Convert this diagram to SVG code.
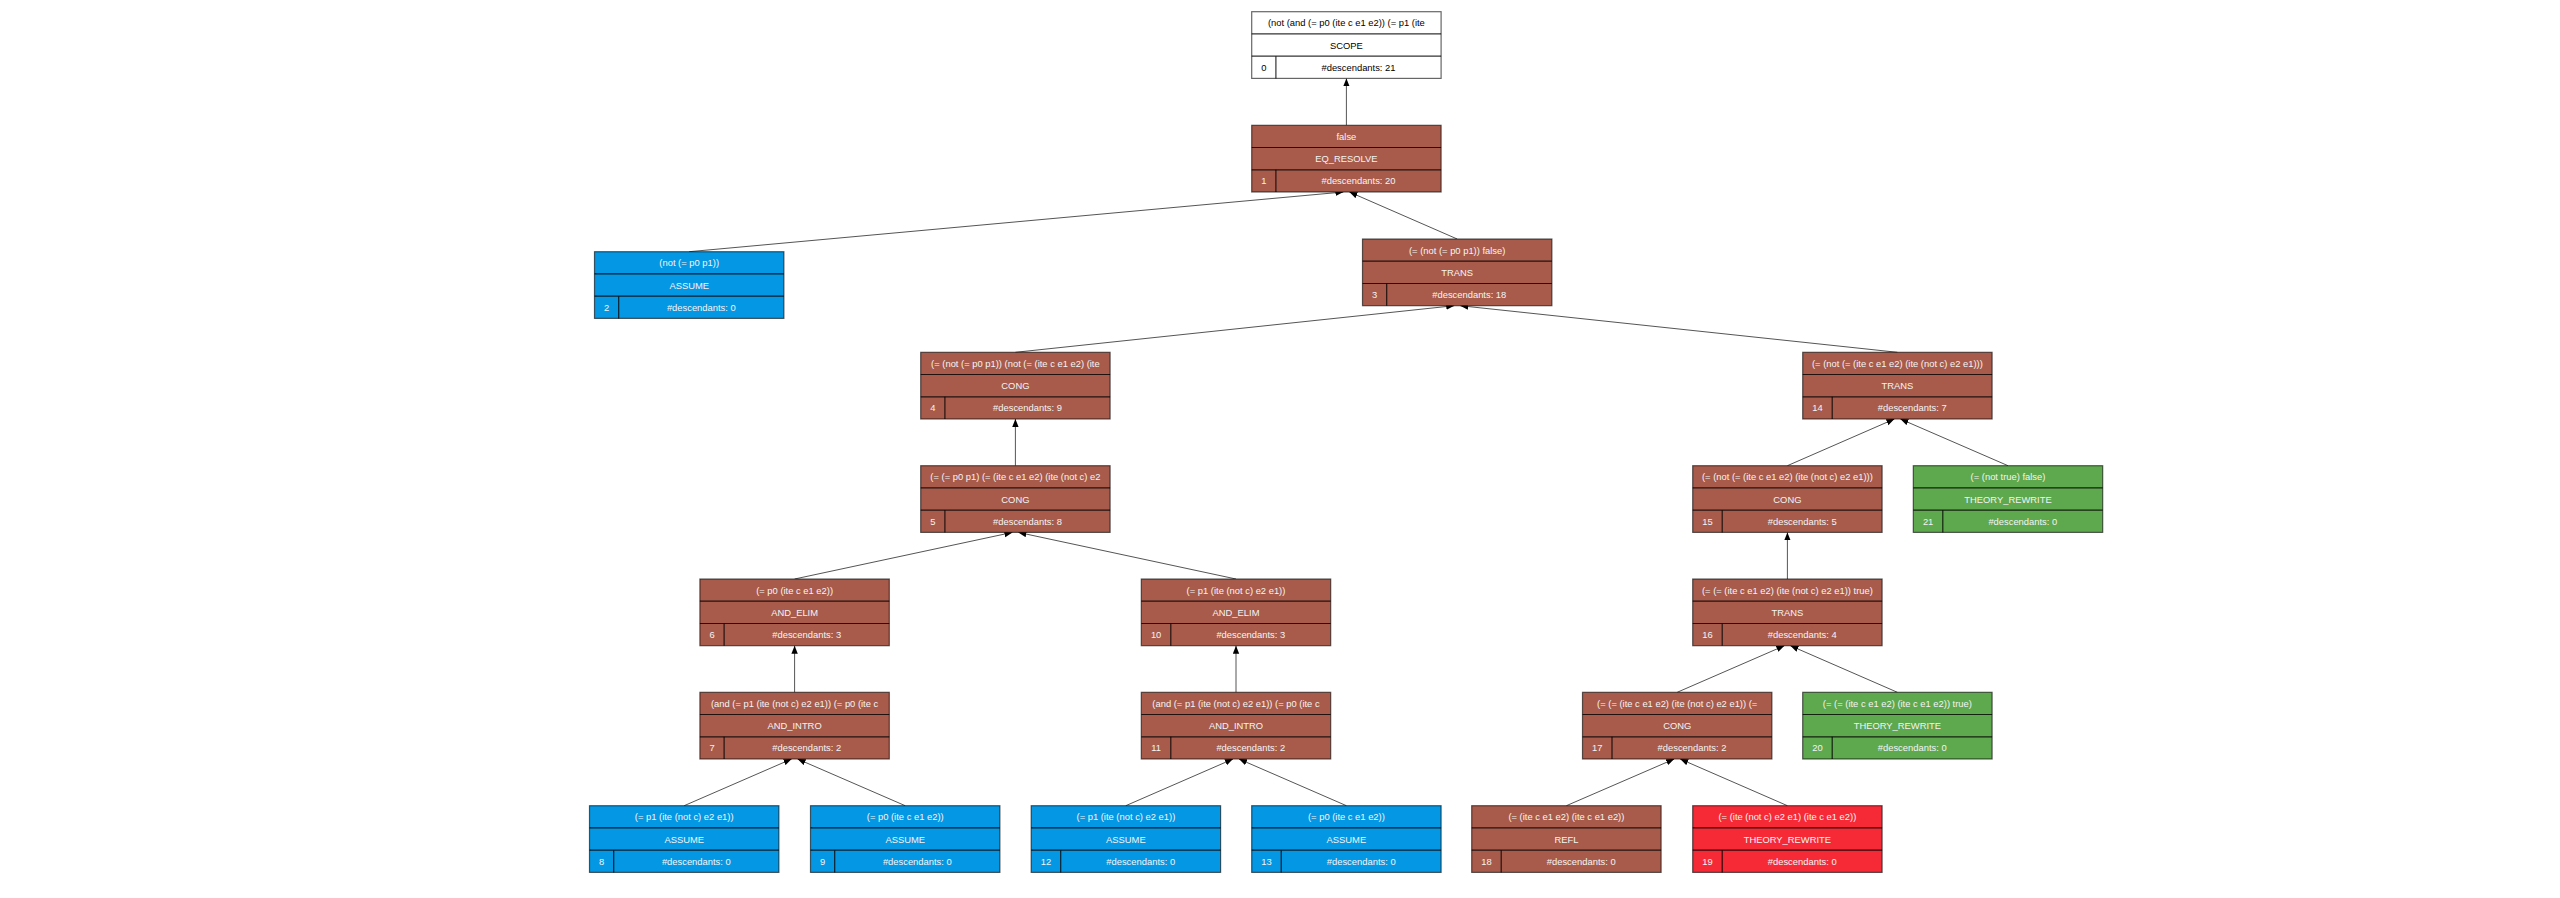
<svg xmlns="http://www.w3.org/2000/svg" width="2560" height="898" viewBox="0 0 2560 898">
<style>
.box{stroke:#000;stroke-opacity:0.6;stroke-width:1.2}
.ln{stroke:#000;stroke-opacity:0.8;stroke-width:1.2}
.brown{fill:#a85b4b}
.blue{fill:#0497e3}
.green{fill:#5ea84e}
.red{fill:#f62a36}
.white{fill:#ffffff}
text{font-family:"Liberation Sans",Arial,sans-serif;font-size:9.4px;text-anchor:middle;dominant-baseline:central;fill:#f4f4f4}
.dark text{fill:#000}
.edge{stroke:#555;stroke-width:1;fill:none;marker-end:url(#ah)}
</style>
<defs>
<marker id="ah" markerUnits="userSpaceOnUse" markerWidth="9" markerHeight="7" refX="8" refY="3.2" orient="auto">
<path d="M0,0 L8,3.2 L0,6.4 z" fill="#000"/>
</marker>
</defs>
<rect width="2560" height="898" fill="#fff"/>
<g id="connectors">
<line class="edge" x1="1346.4" y1="125.3" x2="1346.4" y2="78.4"/>
<line class="edge" x1="689.2" y1="251.7" x2="1343.4" y2="192"/>
<line class="edge" x1="1457.2" y1="239" x2="1349.4" y2="192"/>
<line class="edge" x1="1015.4" y1="352.3" x2="1454.2" y2="305.7"/>
<line class="edge" x1="1897.4" y1="352.3" x2="1460.2" y2="305.7"/>
<line class="edge" x1="1015.4" y1="465.7" x2="1015.4" y2="419"/>
<line class="edge" x1="794.6" y1="579" x2="1012.4" y2="532.4"/>
<line class="edge" x1="1236" y1="579" x2="1018.4" y2="532.4"/>
<line class="edge" x1="794.6" y1="692.3" x2="794.6" y2="645.7"/>
<line class="edge" x1="684.2" y1="805.7" x2="791.6" y2="759"/>
<line class="edge" x1="905.2" y1="805.7" x2="797.6" y2="759"/>
<line class="edge" x1="1236" y1="692.3" x2="1236" y2="645.7"/>
<line class="edge" x1="1125.8" y1="805.7" x2="1233" y2="759"/>
<line class="edge" x1="1346.4" y1="805.7" x2="1239" y2="759"/>
<line class="edge" x1="1787.4" y1="465.7" x2="1894.4" y2="419"/>
<line class="edge" x1="2008" y1="465.7" x2="1900.4" y2="419"/>
<line class="edge" x1="1787.4" y1="579" x2="1787.4" y2="532.4"/>
<line class="edge" x1="1677.2" y1="692.3" x2="1784.4" y2="645.7"/>
<line class="edge" x1="1897.4" y1="692.3" x2="1790.4" y2="645.7"/>
<line class="edge" x1="1566.4" y1="805.7" x2="1674.2" y2="759"/>
<line class="edge" x1="1787.4" y1="805.7" x2="1680.2" y2="759"/>
</g>
<g id="node0" class="dark" transform="translate(1251.7,11.7)">
<rect class="box white" width="189.4" height="66.7"/>
<line class="ln" x1="0" y1="22.2" x2="189.4" y2="22.2"/><line class="ln" x1="0" y1="44.5" x2="189.4" y2="44.5"/><line class="ln" x1="24.2" y1="44.5" x2="24.2" y2="66.7"/>
<text x="94.7" y="11.1">(not (and (= p0 (ite c e1 e2)) (= p1 (ite</text><text x="94.7" y="33.4">SCOPE</text><text x="12.1" y="55.6">0</text><text x="106.8" y="55.6">#descendants: 21</text>
</g>
<g id="node1" transform="translate(1251.7,125.3)">
<rect class="box brown" width="189.4" height="66.7"/>
<line class="ln" x1="0" y1="22.2" x2="189.4" y2="22.2"/><line class="ln" x1="0" y1="44.5" x2="189.4" y2="44.5"/><line class="ln" x1="24.2" y1="44.5" x2="24.2" y2="66.7"/>
<text x="94.7" y="11.1">false</text><text x="94.7" y="33.4">EQ_RESOLVE</text><text x="12.1" y="55.6">1</text><text x="106.8" y="55.6">#descendants: 20</text>
</g>
<g id="node2" transform="translate(594.5,251.7)">
<rect class="box blue" width="189.4" height="66.7"/>
<line class="ln" x1="0" y1="22.2" x2="189.4" y2="22.2"/><line class="ln" x1="0" y1="44.5" x2="189.4" y2="44.5"/><line class="ln" x1="24.2" y1="44.5" x2="24.2" y2="66.7"/>
<text x="94.7" y="11.1">(not (= p0 p1))</text><text x="94.7" y="33.4">ASSUME</text><text x="12.1" y="55.6">2</text><text x="106.8" y="55.6">#descendants: 0</text>
</g>
<g id="node3" transform="translate(1362.5,239)">
<rect class="box brown" width="189.4" height="66.7"/>
<line class="ln" x1="0" y1="22.2" x2="189.4" y2="22.2"/><line class="ln" x1="0" y1="44.5" x2="189.4" y2="44.5"/><line class="ln" x1="24.2" y1="44.5" x2="24.2" y2="66.7"/>
<text x="94.7" y="11.1">(= (not (= p0 p1)) false)</text><text x="94.7" y="33.4">TRANS</text><text x="12.1" y="55.6">3</text><text x="106.8" y="55.6">#descendants: 18</text>
</g>
<g id="node4" transform="translate(920.7,352.3)">
<rect class="box brown" width="189.4" height="66.7"/>
<line class="ln" x1="0" y1="22.2" x2="189.4" y2="22.2"/><line class="ln" x1="0" y1="44.5" x2="189.4" y2="44.5"/><line class="ln" x1="24.2" y1="44.5" x2="24.2" y2="66.7"/>
<text x="94.7" y="11.1">(= (not (= p0 p1)) (not (= (ite c e1 e2) (ite</text><text x="94.7" y="33.4">CONG</text><text x="12.1" y="55.6">4</text><text x="106.8" y="55.6">#descendants: 9</text>
</g>
<g id="node5" transform="translate(920.7,465.7)">
<rect class="box brown" width="189.4" height="66.7"/>
<line class="ln" x1="0" y1="22.2" x2="189.4" y2="22.2"/><line class="ln" x1="0" y1="44.5" x2="189.4" y2="44.5"/><line class="ln" x1="24.2" y1="44.5" x2="24.2" y2="66.7"/>
<text x="94.7" y="11.1">(= (= p0 p1) (= (ite c e1 e2) (ite (not c) e2</text><text x="94.7" y="33.4">CONG</text><text x="12.1" y="55.6">5</text><text x="106.8" y="55.6">#descendants: 8</text>
</g>
<g id="node6" transform="translate(699.9,579)">
<rect class="box brown" width="189.4" height="66.7"/>
<line class="ln" x1="0" y1="22.2" x2="189.4" y2="22.2"/><line class="ln" x1="0" y1="44.5" x2="189.4" y2="44.5"/><line class="ln" x1="24.2" y1="44.5" x2="24.2" y2="66.7"/>
<text x="94.7" y="11.1">(= p0 (ite c e1 e2))</text><text x="94.7" y="33.4">AND_ELIM</text><text x="12.1" y="55.6">6</text><text x="106.8" y="55.6">#descendants: 3</text>
</g>
<g id="node7" transform="translate(699.9,692.3)">
<rect class="box brown" width="189.4" height="66.7"/>
<line class="ln" x1="0" y1="22.2" x2="189.4" y2="22.2"/><line class="ln" x1="0" y1="44.5" x2="189.4" y2="44.5"/><line class="ln" x1="24.2" y1="44.5" x2="24.2" y2="66.7"/>
<text x="94.7" y="11.1">(and (= p1 (ite (not c) e2 e1)) (= p0 (ite c</text><text x="94.7" y="33.4">AND_INTRO</text><text x="12.1" y="55.6">7</text><text x="106.8" y="55.6">#descendants: 2</text>
</g>
<g id="node8" transform="translate(589.5,805.7)">
<rect class="box blue" width="189.4" height="66.7"/>
<line class="ln" x1="0" y1="22.2" x2="189.4" y2="22.2"/><line class="ln" x1="0" y1="44.5" x2="189.4" y2="44.5"/><line class="ln" x1="24.2" y1="44.5" x2="24.2" y2="66.7"/>
<text x="94.7" y="11.1">(= p1 (ite (not c) e2 e1))</text><text x="94.7" y="33.4">ASSUME</text><text x="12.1" y="55.6">8</text><text x="106.8" y="55.6">#descendants: 0</text>
</g>
<g id="node9" transform="translate(810.5,805.7)">
<rect class="box blue" width="189.4" height="66.7"/>
<line class="ln" x1="0" y1="22.2" x2="189.4" y2="22.2"/><line class="ln" x1="0" y1="44.5" x2="189.4" y2="44.5"/><line class="ln" x1="24.2" y1="44.5" x2="24.2" y2="66.7"/>
<text x="94.7" y="11.1">(= p0 (ite c e1 e2))</text><text x="94.7" y="33.4">ASSUME</text><text x="12.1" y="55.6">9</text><text x="106.8" y="55.6">#descendants: 0</text>
</g>
<g id="node10" transform="translate(1141.3,579)">
<rect class="box brown" width="189.4" height="66.7"/>
<line class="ln" x1="0" y1="22.2" x2="189.4" y2="22.2"/><line class="ln" x1="0" y1="44.5" x2="189.4" y2="44.5"/><line class="ln" x1="29.5" y1="44.5" x2="29.5" y2="66.7"/>
<text x="94.7" y="11.1">(= p1 (ite (not c) e2 e1))</text><text x="94.7" y="33.4">AND_ELIM</text><text x="14.8" y="55.6">10</text><text x="109.5" y="55.6">#descendants: 3</text>
</g>
<g id="node11" transform="translate(1141.3,692.3)">
<rect class="box brown" width="189.4" height="66.7"/>
<line class="ln" x1="0" y1="22.2" x2="189.4" y2="22.2"/><line class="ln" x1="0" y1="44.5" x2="189.4" y2="44.5"/><line class="ln" x1="29.5" y1="44.5" x2="29.5" y2="66.7"/>
<text x="94.7" y="11.1">(and (= p1 (ite (not c) e2 e1)) (= p0 (ite c</text><text x="94.7" y="33.4">AND_INTRO</text><text x="14.8" y="55.6">11</text><text x="109.5" y="55.6">#descendants: 2</text>
</g>
<g id="node12" transform="translate(1031.2,805.7)">
<rect class="box blue" width="189.4" height="66.7"/>
<line class="ln" x1="0" y1="22.2" x2="189.4" y2="22.2"/><line class="ln" x1="0" y1="44.5" x2="189.4" y2="44.5"/><line class="ln" x1="29.5" y1="44.5" x2="29.5" y2="66.7"/>
<text x="94.7" y="11.1">(= p1 (ite (not c) e2 e1))</text><text x="94.7" y="33.4">ASSUME</text><text x="14.8" y="55.6">12</text><text x="109.5" y="55.6">#descendants: 0</text>
</g>
<g id="node13" transform="translate(1251.7,805.7)">
<rect class="box blue" width="189.4" height="66.7"/>
<line class="ln" x1="0" y1="22.2" x2="189.4" y2="22.2"/><line class="ln" x1="0" y1="44.5" x2="189.4" y2="44.5"/><line class="ln" x1="29.5" y1="44.5" x2="29.5" y2="66.7"/>
<text x="94.7" y="11.1">(= p0 (ite c e1 e2))</text><text x="94.7" y="33.4">ASSUME</text><text x="14.8" y="55.6">13</text><text x="109.5" y="55.6">#descendants: 0</text>
</g>
<g id="node14" transform="translate(1802.7,352.3)">
<rect class="box brown" width="189.4" height="66.7"/>
<line class="ln" x1="0" y1="22.2" x2="189.4" y2="22.2"/><line class="ln" x1="0" y1="44.5" x2="189.4" y2="44.5"/><line class="ln" x1="29.5" y1="44.5" x2="29.5" y2="66.7"/>
<text x="94.7" y="11.1">(= (not (= (ite c e1 e2) (ite (not c) e2 e1)))</text><text x="94.7" y="33.4">TRANS</text><text x="14.8" y="55.6">14</text><text x="109.5" y="55.6">#descendants: 7</text>
</g>
<g id="node15" transform="translate(1692.7,465.7)">
<rect class="box brown" width="189.4" height="66.7"/>
<line class="ln" x1="0" y1="22.2" x2="189.4" y2="22.2"/><line class="ln" x1="0" y1="44.5" x2="189.4" y2="44.5"/><line class="ln" x1="29.5" y1="44.5" x2="29.5" y2="66.7"/>
<text x="94.7" y="11.1">(= (not (= (ite c e1 e2) (ite (not c) e2 e1)))</text><text x="94.7" y="33.4">CONG</text><text x="14.8" y="55.6">15</text><text x="109.5" y="55.6">#descendants: 5</text>
</g>
<g id="node16" transform="translate(1692.7,579)">
<rect class="box brown" width="189.4" height="66.7"/>
<line class="ln" x1="0" y1="22.2" x2="189.4" y2="22.2"/><line class="ln" x1="0" y1="44.5" x2="189.4" y2="44.5"/><line class="ln" x1="29.5" y1="44.5" x2="29.5" y2="66.7"/>
<text x="94.7" y="11.1">(= (= (ite c e1 e2) (ite (not c) e2 e1)) true)</text><text x="94.7" y="33.4">TRANS</text><text x="14.8" y="55.6">16</text><text x="109.5" y="55.6">#descendants: 4</text>
</g>
<g id="node17" transform="translate(1582.5,692.3)">
<rect class="box brown" width="189.4" height="66.7"/>
<line class="ln" x1="0" y1="22.2" x2="189.4" y2="22.2"/><line class="ln" x1="0" y1="44.5" x2="189.4" y2="44.5"/><line class="ln" x1="29.5" y1="44.5" x2="29.5" y2="66.7"/>
<text x="94.7" y="11.1">(= (= (ite c e1 e2) (ite (not c) e2 e1)) (=</text><text x="94.7" y="33.4">CONG</text><text x="14.8" y="55.6">17</text><text x="109.5" y="55.6">#descendants: 2</text>
</g>
<g id="node18" transform="translate(1471.7,805.7)">
<rect class="box brown" width="189.4" height="66.7"/>
<line class="ln" x1="0" y1="22.2" x2="189.4" y2="22.2"/><line class="ln" x1="0" y1="44.5" x2="189.4" y2="44.5"/><line class="ln" x1="29.5" y1="44.5" x2="29.5" y2="66.7"/>
<text x="94.7" y="11.1">(= (ite c e1 e2) (ite c e1 e2))</text><text x="94.7" y="33.4">REFL</text><text x="14.8" y="55.6">18</text><text x="109.5" y="55.6">#descendants: 0</text>
</g>
<g id="node19" transform="translate(1692.7,805.7)">
<rect class="box red" width="189.4" height="66.7"/>
<line class="ln" x1="0" y1="22.2" x2="189.4" y2="22.2"/><line class="ln" x1="0" y1="44.5" x2="189.4" y2="44.5"/><line class="ln" x1="29.5" y1="44.5" x2="29.5" y2="66.7"/>
<text x="94.7" y="11.1">(= (ite (not c) e2 e1) (ite c e1 e2))</text><text x="94.7" y="33.4">THEORY_REWRITE</text><text x="14.8" y="55.6">19</text><text x="109.5" y="55.6">#descendants: 0</text>
</g>
<g id="node20" transform="translate(1802.7,692.3)">
<rect class="box green" width="189.4" height="66.7"/>
<line class="ln" x1="0" y1="22.2" x2="189.4" y2="22.2"/><line class="ln" x1="0" y1="44.5" x2="189.4" y2="44.5"/><line class="ln" x1="29.5" y1="44.5" x2="29.5" y2="66.7"/>
<text x="94.7" y="11.1">(= (= (ite c e1 e2) (ite c e1 e2)) true)</text><text x="94.7" y="33.4">THEORY_REWRITE</text><text x="14.8" y="55.6">20</text><text x="109.5" y="55.6">#descendants: 0</text>
</g>
<g id="node21" transform="translate(1913.3,465.7)">
<rect class="box green" width="189.4" height="66.7"/>
<line class="ln" x1="0" y1="22.2" x2="189.4" y2="22.2"/><line class="ln" x1="0" y1="44.5" x2="189.4" y2="44.5"/><line class="ln" x1="29.5" y1="44.5" x2="29.5" y2="66.7"/>
<text x="94.7" y="11.1">(= (not true) false)</text><text x="94.7" y="33.4">THEORY_REWRITE</text><text x="14.8" y="55.6">21</text><text x="109.5" y="55.6">#descendants: 0</text>
</g>
</svg>
